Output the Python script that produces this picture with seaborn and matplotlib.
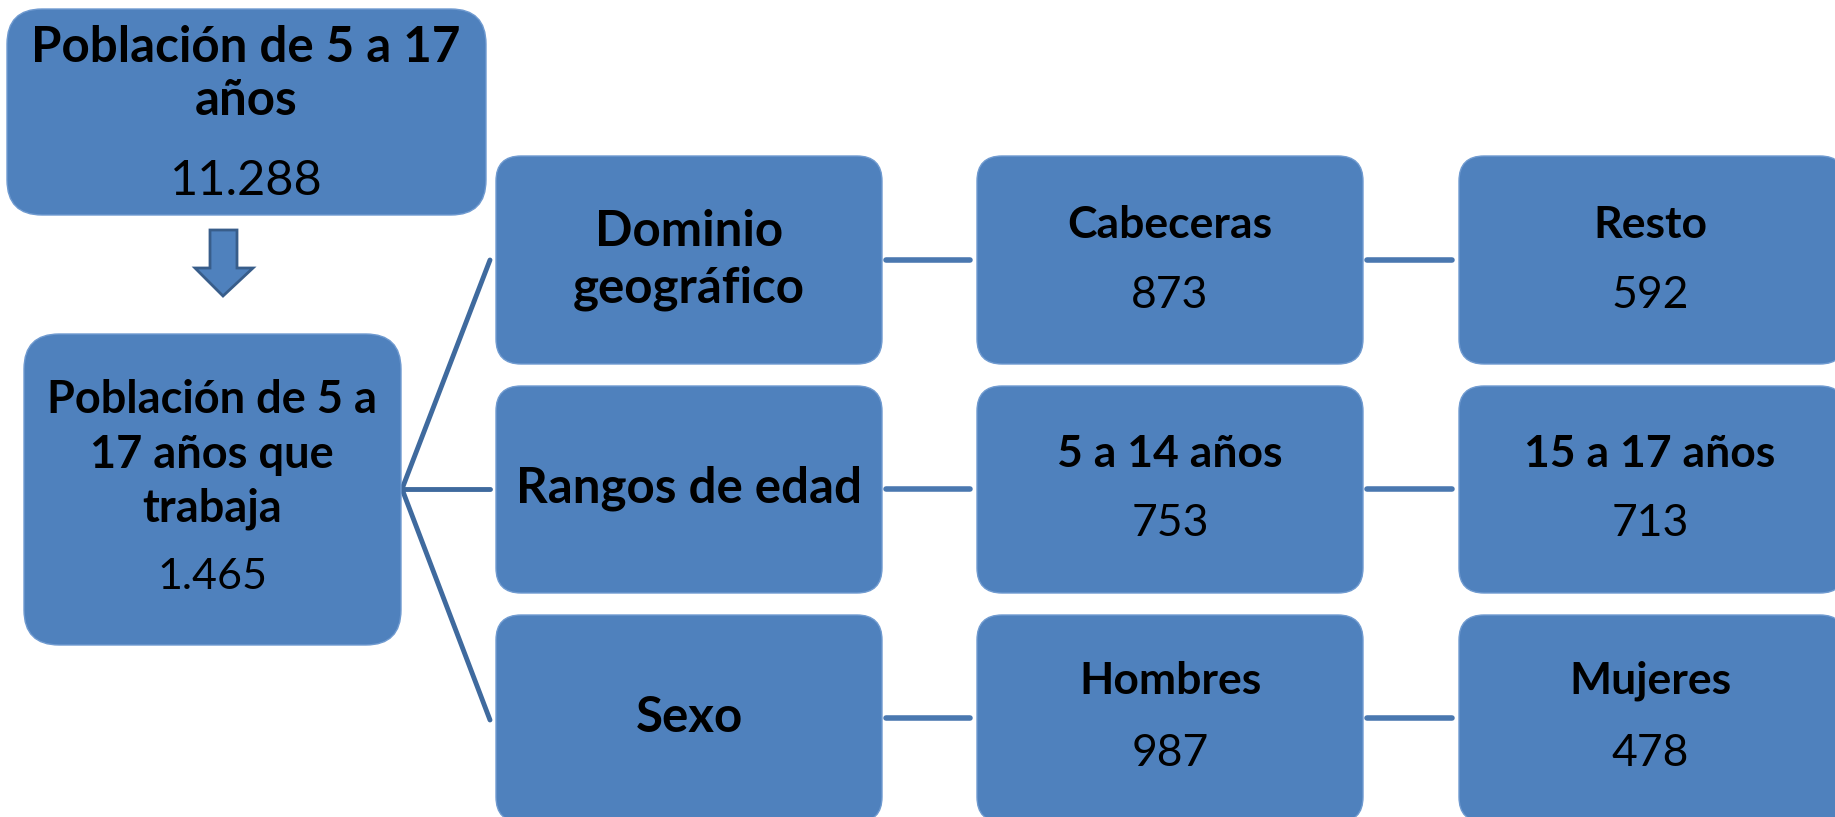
import pandas as pd
import matplotlib
matplotlib.use("Agg")
import matplotlib.pyplot as plt
import seaborn as sns
from matplotlib.patches import FancyBboxPatch, Polygon

# data
total_label = "Población de 5 a 17\naños"
total_value = 11288
working_label = "Población de 5 a\n17 años que\ntrabaja"
working_value = 1465
categories = ["Dominio\ngeográfico", "Rangos de edad", "Sexo"]
group_a = ["Cabeceras", "5 a 14 años", "Hombres"]
group_a_values = [873, 753, 987]
group_b = ["Resto", "15 a 17 años", "Mujeres"]
group_b_values = [592, 713, 478]

sns.set_theme(style="white")
plt.rcParams['font.family'] = ['Lato', 'DejaVu Sans']
plt.rcParams['text.color'] = 'black'

FILL = "#4F81BD"
EDGE = "#6f9ad0"
LINE = "#3F6A9E"

def fmt(v):
    return f"{v:,}".replace(",", ".")

fig = plt.figure(figsize=(18.35, 8.17), dpi=100)
ax = fig.add_axes([0, 0, 1, 1])


def box(x0, y0, x1, y1, r=30):
    p = FancyBboxPatch((x0, y0), x1 - x0, y1 - y0,
                       boxstyle=f"round,pad=0,rounding_size={r}",
                       fc=FILL, ec=EDGE, lw=1, zorder=2)
    ax.add_patch(p)


def put(x, y, s, size, weight="normal"):
    ax.text(x, y, s, ha="center", va="center", fontsize=size,
            fontweight=weight, color="black", zorder=3)


def lines_text(x, y_first, text, step, size, weight):
    for i, line in enumerate(text.split("\n")):
        put(x, y_first + i * step, line, size, weight)


# connectors (fan from the working box, then links between columns)
row_c = [260, 489, 718]
fan_end = [260, 489, 720]
segs = []
for i in range(3):
    segs.append({"seg": f"fan{i}", "x": 402, "y": 489})
    segs.append({"seg": f"fan{i}", "x": 490, "y": fan_end[i]})
seg_df = pd.DataFrame(segs)
sns.lineplot(data=seg_df, x="x", y="y", units="seg", estimator=None,
             color=LINE, lw=3.5, ax=ax, sort=False, zorder=1)

links = []
for i, yc in enumerate(row_c):
    links.append({"seg": f"a{i}", "x": 886, "y": yc})
    links.append({"seg": f"a{i}", "x": 970, "y": yc})
    links.append({"seg": f"b{i}", "x": 1367, "y": yc})
    links.append({"seg": f"b{i}", "x": 1452, "y": yc})
link_df = pd.DataFrame(links)
sns.lineplot(data=link_df, x="x", y="y", units="seg", estimator=None,
             color="#4A78B0", lw=4, ax=ax, sort=False, zorder=1)
ax.set_xlim(0, 1835)
ax.set_ylim(817, 0)
ax.axis("off")

# top box
box(7, 9, 486, 215, r=35)
lines_text(246, 47, total_label, 53, 35.5, "bold")
put(246, 181, fmt(total_value), 35)

# arrow down
arrow = Polygon([(210, 230), (237, 230), (237, 268), (253, 268), (223, 296),
                 (195, 268), (210, 268)], closed=True,
                fc=FILL, ec="#385D8A", lw=2, zorder=2)
ax.add_patch(arrow)

# working population box
box(24, 334, 401, 645, r=35)
lines_text(212, 400, working_label, 54.5, 32.5, "bold")
put(212, 577, fmt(working_value), 31)

row_top = [156, 386, 615]
row_bot = [364, 593, 822]
for i in range(3):
    box(496, row_top[i], 882, row_bot[i], r=25)
    box(977, row_top[i], 1363, row_bot[i], r=25)
    box(1459, row_top[i], 1845, row_bot[i], r=25)

# category labels
cat_y = [(231, 57), (488, 0), (717, 0)]
for i, name in enumerate(categories):
    y0, step = cat_y[i]
    lines_text(689, y0, name, step, 35.5, "bold")

head_y = [225, 454, 681]
val_y = [296, 524, 753]
for i in range(3):
    put(1170, head_y[i], group_a[i], 32, "bold")
    put(1170, val_y[i], fmt(group_a_values[i]), 32)
    put(1650, head_y[i], group_b[i], 32, "bold")
    put(1650, val_y[i], fmt(group_b_values[i]), 32)

fig.savefig("out.png", dpi=100)
